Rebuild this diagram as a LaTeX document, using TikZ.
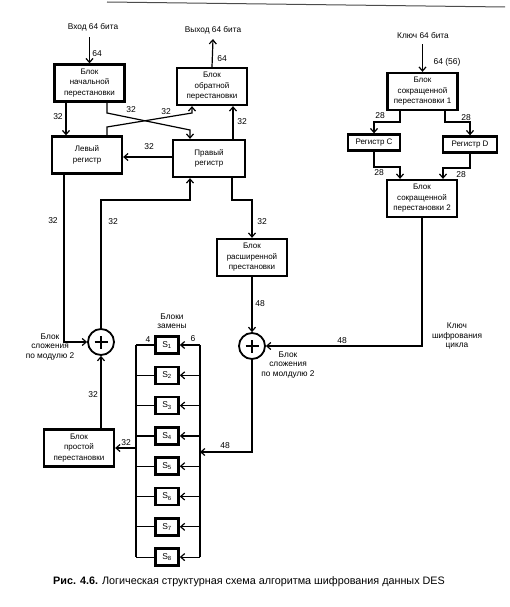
\documentclass[tikz,border=0pt]{standalone}
\usepackage{fontspec}
\setmainfont{Liberation Sans}
\usetikzlibrary{arrows.meta}
\begin{document}
\begin{tikzpicture}[x=1pt,y=-1pt,
 lbl/.style={font=\fontsize{8.5}{9.5}\selectfont, inner sep=0pt},
 txt/.style={font=\fontsize{8.3}{9.5}\selectfont, inner sep=0pt, align=center},
 blk/.style={draw, line width=2.3pt, minimum width=70pt, minimum height=37pt, align=center, inner sep=1pt, font=\fontsize{8}{10.5}\selectfont},
 reg/.style={draw, line width=2.3pt, minimum height=16pt, inner sep=1pt, font=\fontsize{8}{9}\selectfont},
 sbox/.style={draw, line width=2.6pt, minimum width=23pt, minimum height=17pt, inner sep=0pt, font=\fontsize{8.5}{9}\selectfont},
 xor/.style={draw, circle, line width=1.8pt, minimum size=26pt, inner sep=0pt,
   path picture={\draw[line width=2.2pt] ([xshift=-6.5pt]path picture bounding box.center) -- ([xshift=6.5pt]path picture bounding box.center) ([yshift=-6.5pt]path picture bounding box.center) -- ([yshift=6.5pt]path picture bounding box.center);}},
 arr/.style={line width=1.2pt, -{Straight Barb[length=4pt,width=7pt]}},
 ln/.style={line width=1.2pt}]
\useasboundingbox (0,0) rectangle (509,607);
\draw[line width=1pt, black!70] (107,2) -- (505,7);

% titles
\node[txt] (inp) at (93,27) {Вход 64 бита};
\node[txt] (outp) at (213,30) {Выход 64 бита};
\node[txt] (key) at (423,35) {Ключ 64 бита};

% blocks
\node[blk] (ip) at (89.5,83) {Блок\\начальной\\перестановки};
\node[blk] (fp) at (212,86.5) {Блок\\обратной\\перестановки};
\node[blk] (L) at (87,155) {Левый\\регистр};
\node[blk, minimum width=72pt] (R) at (209,158.5) {Правый\\регистр};
\node[blk] (kp1) at (422.5,91.5) {Блок\\сокращенной\\перестановки 1};
\node[reg, minimum width=52pt] (C) at (374,142.5) {Регистр C};
\node[reg, minimum width=54pt] (D) at (470,144.5) {Регистр D};
\node[blk] (kp2) at (422,198.5) {Блок\\сокращенной\\перестановки 2};
\node[blk] (E) at (252,257.5) {Блок\\расширенной\\престановки};
\node[blk] (P) at (79,448) {Блок\\простой\\перестановки};
\node[xor] (x1) at (101,342) {};
\node[xor] (x2) at (252,346) {};

\node[txt] (sl) at (172,321) {Блоки\\замены};
\foreach \i in {1,...,8} {
  \node[sbox] (S\i) at (167,{345+30.3*(\i-1)}) {S\textsubscript{\i}};
  \draw[ln] (S\i.west) -- (S\i.west -| 136,0);
  \draw[arr] (S\i.east -| 200,0) -- (S\i.east);
}
\draw[ln] (S1.west -| 136,0) -- (S8.west -| 136,0);
\draw[ln] (S1.east -| 200,0) -- (S8.east -| 200,0);

% connectors
\draw[arr] ([yshift=-6pt]ip.north |- inp.south) -- (ip.north);
\draw[arr] (fp.north) -- ([yshift=-5pt]outp.south);
\draw[arr] ([yshift=-6pt]kp1.north |- key.south) -- (kp1.north);
\draw[arr] (ip.south -| 66,0) -- (L.north -| 66,0);
\draw[arr] (ip.south -| 107,0) -- (107,113) -- (190,130) -- (R.north -| 190,0);
\draw[arr] (L.north -| 107,0) -- (107,127) -- (192,113) -- (fp.south -| 192,0);
\draw[arr] (R.north -| 233,0) -- (fp.south -| 233,0);
\draw[arr] (R.west |- 0,157) -- (L.east |- 0,157);
\draw[arr] (L.south -| 64,0) -- (64,342) -- (x1.west);
\draw[arr] (x1.north) -- (101,200) -- (190,200) -- (R.south -| 190,0);
\draw[arr] (R.south -| 232,0) -- (232,200) -- (252,200) -- (E.north);
\draw[arr] (E.south) -- (x2.north);
\draw[arr] (kp2.south) |- (x2.east);
\draw[arr] (x2.south) -- (252,452) -- (200,452);
\draw[arr] (136,448) -- (P.east);
\draw[arr] (P.north -| x1.south) -- (x1.south);
\draw[arr] (kp1.south -| 400,0) -- (400,122) -- (374,122) -- (C.north);
\draw[arr] (kp1.south -| 445,0) -- (445,122) -- (470,122) -- (D.north);
\draw[arr] (C.south) -- (374,167) -- (400,167) -- (kp2.north -| 400,0);
\draw[arr] (D.south) -- (470,168) -- (443,168) -- (kp2.north -| 443,0);

% labels
\node[lbl] at (97,54) {64};
\node[lbl] at (222,59) {64};
\node[lbl] at (447,62) {64 (56)};
\node[lbl] at (58,117) {32};
\node[lbl] at (131,110) {32};
\node[lbl] at (166,112) {32};
\node[lbl] at (242,122) {32};
\node[lbl] at (149,147) {32};
\node[lbl] at (53,221) {32};
\node[lbl] at (113,222) {32};
\node[lbl] at (262,222) {32};
\node[lbl] at (260,304) {48};
\node[lbl] at (342,341) {48};
\node[lbl] at (225,446) {48};
\node[lbl] at (126,443) {32};
\node[lbl] at (93,395) {32};
\node[lbl] at (148,340) {4};
\node[lbl] at (193,339) {6};
\node[lbl] at (380,116) {28};
\node[lbl] at (466,118) {28};
\node[lbl] at (379,173) {28};
\node[lbl] at (461,175) {28};

\node[txt] (kc) at (457,336) {Ключ\\шифрования\\цикла};
\node[txt] (a2) at (288,365) {Блок\\сложения\\по молдулю 2};
\node[txt] (a1) at (50,347) {Блок\\сложения\\по модулю 2};

\node[anchor=west, inner sep=0pt, font=\fontsize{10.8}{12}\selectfont] (cap) at (53,582) {\textbf{Рис. 4.6.} Логическая структурная схема алгоритма шифрования данных DES};
\end{tikzpicture}
\end{document}
